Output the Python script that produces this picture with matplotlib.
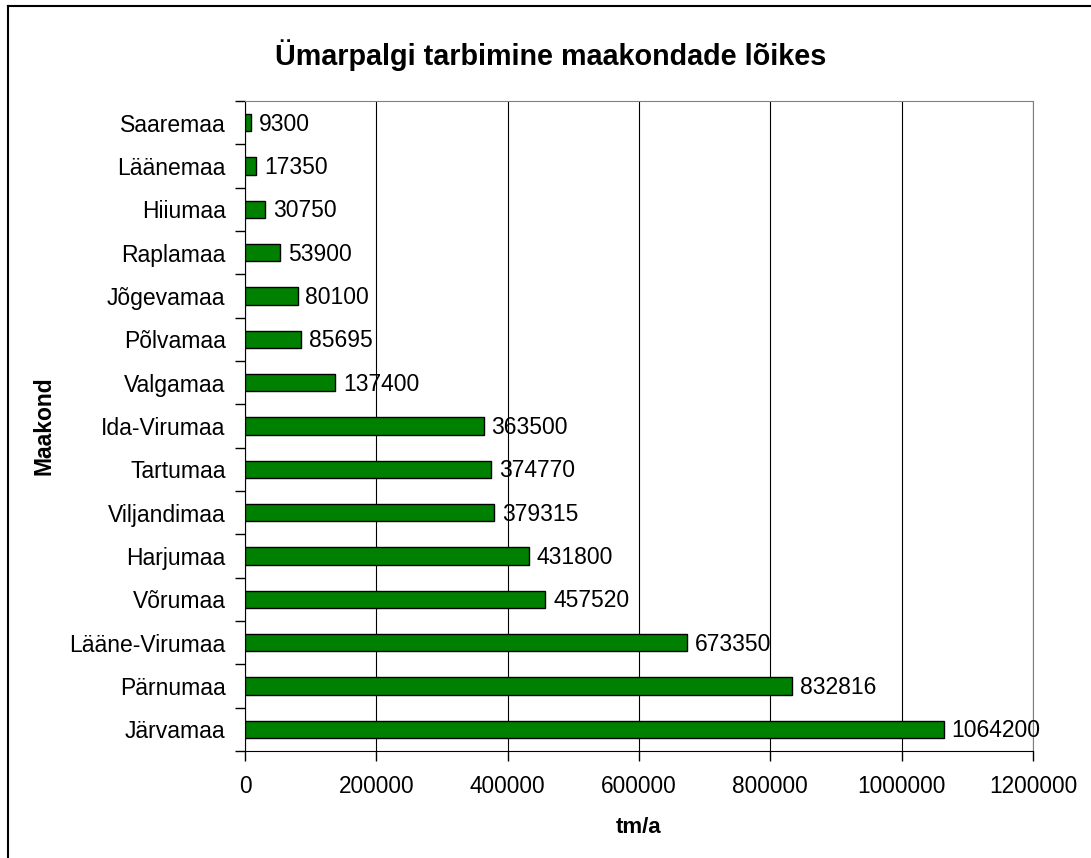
import numpy as np
import matplotlib.pyplot as plt
from matplotlib.lines import Line2D

plt.rcParams['font.family'] = ['Liberation Sans', 'DejaVu Sans']

# bottom to top
maakonnad = ['Järvamaa', 'Pärnumaa', 'Lääne-Virumaa', 'Võrumaa', 'Harjumaa',
             'Viljandimaa', 'Tartumaa', 'Ida-Virumaa', 'Valgamaa', 'Põlvamaa',
             'Jõgevamaa', 'Raplamaa', 'Hiiumaa', 'Läänemaa', 'Saaremaa']
tarbimine = [1064200, 832816, 673350, 457520, 431800,
             379315, 374770, 363500, 137400, 85695,
             80100, 53900, 30750, 17350, 9300]
x_ticks = [0, 200000, 400000, 600000, 800000, 1000000, 1200000]

fig = plt.figure(figsize=(10.91, 8.58), dpi=100)
ax = fig.add_axes([0.2246, 0.1247, 0.7222, 0.7576])

y = np.arange(len(maakonnad))
ax.barh(y, tarbimine, height=0.4, color='#008000', edgecolor='black', linewidth=1, zorder=3)
for yi, v in zip(y, tarbimine):
    ax.annotate(str(v), (v, yi), xytext=(5.5, -1), textcoords='offset points',
                va='center', ha='left', fontsize=16.5, zorder=4)

ax.set_xlim(0, 1200000)
ax.set_ylim(-0.5, len(maakonnad) - 0.5)
ax.set_xticks(x_ticks)
ax.set_xticklabels([str(t) for t in x_ticks], fontsize=16.3)
ax.set_yticks(y)
ax.set_yticklabels(maakonnad, fontsize=16.5)
ax.set_yticks(np.arange(-0.5, len(maakonnad), 1), minor=True)
ax.tick_params(axis='y', which='major', length=0, pad=14)
ax.tick_params(axis='y', which='minor', length=7, width=1, color='black')
ax.tick_params(axis='x', length=7, width=1, pad=10)
ax.xaxis.grid(True, color='black', linewidth=0.8, zorder=0)

for side in ['top', 'right']:
    ax.spines[side].set_color('#808080')
for side in ['left', 'bottom']:
    ax.spines[side].set_color('black')

ax.set_xlabel('tm/a', fontsize=16, fontweight='bold', labelpad=14)
ax.set_ylabel('Maakond', fontsize=16.5, fontweight='bold', labelpad=10)
fig.text(0.505, 0.936, 'Ümarpalgi tarbimine maakondade lõikes',
         ha='center', va='center', fontsize=20.7, fontweight='bold')

# outer chart frame (only left and top visible)
fig.add_artist(Line2D([0.0075, 0.0075], [0.0, 0.9925], color='black', linewidth=1.5,
                      transform=fig.transFigure))
fig.add_artist(Line2D([0.0075, 1.0], [0.9925, 0.9925], color='black', linewidth=1.5,
                      transform=fig.transFigure))

fig.savefig('out.png', dpi=100)
